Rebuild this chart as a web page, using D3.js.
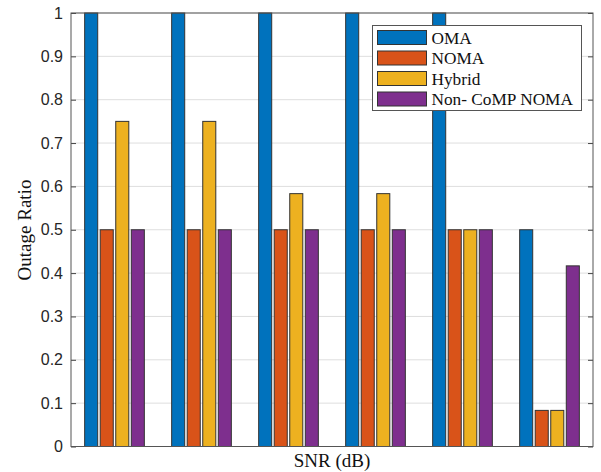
<!DOCTYPE html>
<html>
<head>
<meta charset="utf-8">
<script src="https://cdn.jsdelivr.net/npm/d3@7"></script>
<style>
  body { margin: 0; background: #fff; }
  svg { display: block; }
</style>
</head>
<body>
<svg id="chart" width="601" height="472"></svg>
<script>
// Outage ratio per SNR point for each access scheme
const groups = ["1", "2", "3", "4", "5", "6"];
const seriesNames = ["OMA", "NOMA", "Hybrid", "Non- CoMP NOMA"];
const omaValues = [1, 1, 1, 1, 1, 0.5];
const nomaValues = [0.5, 0.5, 0.5, 0.5, 0.5, 0.0833];
const hybridValues = [0.75, 0.75, 0.5833, 0.5833, 0.5, 0.0833];
const nonCompValues = [0.5, 0.5, 0.5, 0.5, 0.5, 0.4167];
const yTicks = [0, 0.1, 0.2, 0.3, 0.4, 0.5, 0.6, 0.7, 0.8, 0.9, 1];
const colors = ["#0072BD", "#D95319", "#EDB120", "#7E2F8E"];

const seriesValues = [omaValues, nomaValues, hybridValues, nonCompValues];

const svg = d3.select("#chart");
const plotL = 71, plotR = 593, plotT = 13, plotB = 446.5;
const serif = "Liberation Serif, Times New Roman, serif";

const x = d3.scaleBand().domain(groups).range([plotL, plotR]).paddingInner(0).paddingOuter(0);
const y = d3.scaleLinear().domain([0, 1]).range([plotB, plotT]);

const step = x.bandwidth();
const offset = d3.scaleLinear().domain([0, seriesNames.length - 1]).range([-0.268 * step, 0.268 * step]);
const barW = 0.15 * step;

// horizontal grid
svg.append("g")
  .selectAll("line")
  .data(yTicks)
  .join("line")
  .attr("x1", plotL).attr("x2", plotR)
  .attr("y1", d => y(d)).attr("y2", d => y(d))
  .attr("stroke", "#dedede").attr("stroke-width", 1);

// bars
const series = seriesNames.map((name, i) => ({ name, i, values: seriesValues[i] }));
svg.append("g")
  .selectAll("g")
  .data(series)
  .join("g")
  .attr("fill", d => colors[d.i])
  .selectAll("rect")
  .data(d => d.values.map((v, j) => ({ v, g: groups[j], i: d.i })))
  .join("rect")
  .attr("x", d => x(d.g) + step / 2 + offset(d.i) - barW / 2)
  .attr("width", barW)
  .attr("y", d => y(d.v))
  .attr("height", d => y(0) - y(d.v))
  .attr("stroke", "#333")
  .attr("stroke-width", 1);

// axes
const yAxisL = d3.axisLeft(y).tickValues(yTicks).tickSize(-5).tickPadding(8)
  .tickFormat(d => d3.format("")(+d.toFixed(1)));
const gL = svg.append("g").attr("transform", `translate(${plotL},0)`).call(yAxisL);
gL.select(".domain").remove();
gL.selectAll("line").attr("stroke", "#444");
gL.selectAll("text").attr("font-family", "Liberation Sans, Arial, sans-serif")
  .attr("font-size", 16).attr("fill", "#262626");

const yAxisR = d3.axisRight(y).tickValues(yTicks).tickSize(-5).tickFormat("");
const gR = svg.append("g").attr("transform", `translate(${plotR},0)`).call(yAxisR);
gR.select(".domain").remove();
gR.selectAll("line").attr("stroke", "#444");

// box
svg.append("rect")
  .attr("x", plotL).attr("y", plotT)
  .attr("width", plotR - plotL).attr("height", plotB - plotT)
  .attr("fill", "none").attr("stroke", "#555").attr("stroke-width", 1);

// legend
const lg = svg.append("g").attr("transform", "translate(372.5,25.5)");
lg.append("rect").attr("width", 209).attr("height", 85)
  .attr("fill", "#fff").attr("stroke", "#555").attr("stroke-width", 1);
const items = lg.selectAll("g.item").data(series).join("g")
  .attr("class", "item")
  .attr("transform", d => `translate(5,${5 + d.i * 20.5})`);
items.append("rect").attr("width", 49).attr("height", 14)
  .attr("fill", d => colors[d.i]).attr("stroke", "#333").attr("stroke-width", 1);
items.append("text").attr("x", 54).attr("y", 13)
  .attr("font-family", serif)
  .attr("font-size", 17.3).attr("fill", "#111")
  .text(d => d.name);

// axis titles
svg.append("text")
  .attr("x", (plotL + plotR) / 2).attr("y", 467)
  .attr("text-anchor", "middle")
  .attr("font-family", serif)
  .attr("font-size", 19).attr("fill", "#111")
  .text("SNR (dB)");

svg.append("text")
  .attr("transform", `translate(31,230) rotate(-90)`)
  .attr("text-anchor", "middle")
  .attr("font-family", serif)
  .attr("font-size", 19).attr("fill", "#111")
  .text("Outage Ratio");
</script>
</body>
</html>
